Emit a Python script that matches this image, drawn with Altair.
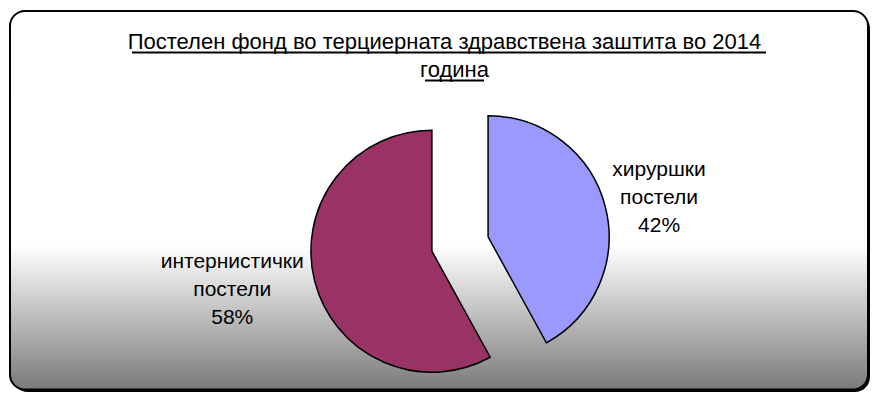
import altair as alt
import pandas as pd

# ---- data ----
categories = ["хируршки постели", "интернистички постели"]
shares = [42, 58]
colors = ["#9999FF", "#993366"]
title_lines = ["Постелен фонд во терциерната здравствена заштита во 2014", "година"]

df = pd.DataFrame({"category": categories, "share": shares, "color": colors,
                   "order": list(range(len(categories)))})
df["label"] = [c.replace(" ", "\n") + f"\n{s}%" for c, s in zip(categories, shares)]
df["maxlen"] = [max(len(w) for w in c.split(" ")) for c in categories]

W, H = 862, 384
CX, CY, R, EXPLODE = 452, 236, 121, 29
FONT = "Liberation Sans"

base = alt.Chart(pd.DataFrame({"a": [0]}))

shadow = base.mark_rect(fill="black", cornerRadius=15).encode(
    x=alt.value(4.5), x2=alt.value(862), y=alt.value(5.5), y2=alt.value(384)
)
grad = alt.Gradient(
    gradient="linear",
    stops=[alt.GradientStop(offset=0, color="#ffffff"),
           alt.GradientStop(offset=0.62, color="#ffffff"),
           alt.GradientStop(offset=1, color="#7a7a7a")],
    x1=0, x2=0, y1=0, y2=1,
)
panel = base.mark_rect(fill=grad, stroke="black", strokeWidth=2, cornerRadius=15).encode(
    x=alt.value(2), x2=alt.value(860), y=alt.value(3), y2=alt.value(381.5)
)

pie_base = alt.Chart(df).transform_window(
    cum="sum(share)", sort=[alt.SortField("order")], frame=[None, 0]
).transform_joinaggregate(total="sum(share)").transform_calculate(
    start="2*PI*(datum.cum-datum.share)/datum.total",
    end="2*PI*datum.cum/datum.total",
).transform_calculate(
    mid="(datum.start+datum.end)/2"
).transform_calculate(
    cx=f"{CX}+{EXPLODE}*sin(datum.mid)",
    cy=f"{CY}-{EXPLODE}*cos(datum.mid)",
    lx=f"{CX}+158*sin(datum.mid)+(sin(datum.mid)>0?1:-1)*datum.maxlen*5.75",
    ly=f"{CY}-185*cos(datum.mid)",
)

arcs = pie_base.mark_arc(radius=R, stroke="black", strokeWidth=1.5).encode(
    x=alt.X("cx:Q", scale=None, axis=None),
    y=alt.Y("cy:Q", scale=None, axis=None),
    theta=alt.Theta("start:Q", scale=None),
    theta2="end:Q",
    fill=alt.Fill("color:N", scale=None),
)

labels = pie_base.mark_text(font=FONT, fontSize=21, lineBreak="\n", lineHeight=28,
                            align="center", baseline="middle", dy=-28,
                            color="black").encode(
    x=alt.X("lx:Q", scale=None, axis=None),
    y=alt.Y("ly:Q", scale=None, axis=None),
    text="label:N",
)

t1 = base.mark_text(text=title_lines[0], font=FONT, fontSize=22, align="center",
                    baseline="alphabetic", color="black").encode(
    x=alt.value(436.5), y=alt.value(41))
t2 = base.mark_text(text=title_lines[1], font=FONT, fontSize=22, align="center",
                    baseline="alphabetic", color="black").encode(
    x=alt.value(446.5), y=alt.value(69))
u1 = base.mark_rule(color="black", strokeWidth=2).encode(
    x=alt.value(124), x2=alt.value(758), y=alt.value(44.5))
u2 = base.mark_rule(color="black", strokeWidth=2).encode(
    x=alt.value(417), x2=alt.value(476), y=alt.value(72.5))

chart = alt.layer(shadow, panel, arcs, labels, t1, t2, u1, u2).properties(
    width=W, height=H, padding=0, autosize="none"
).configure_view(stroke=None)

chart.save("out.html", embed_options={"renderer": "svg", "actions": False})
